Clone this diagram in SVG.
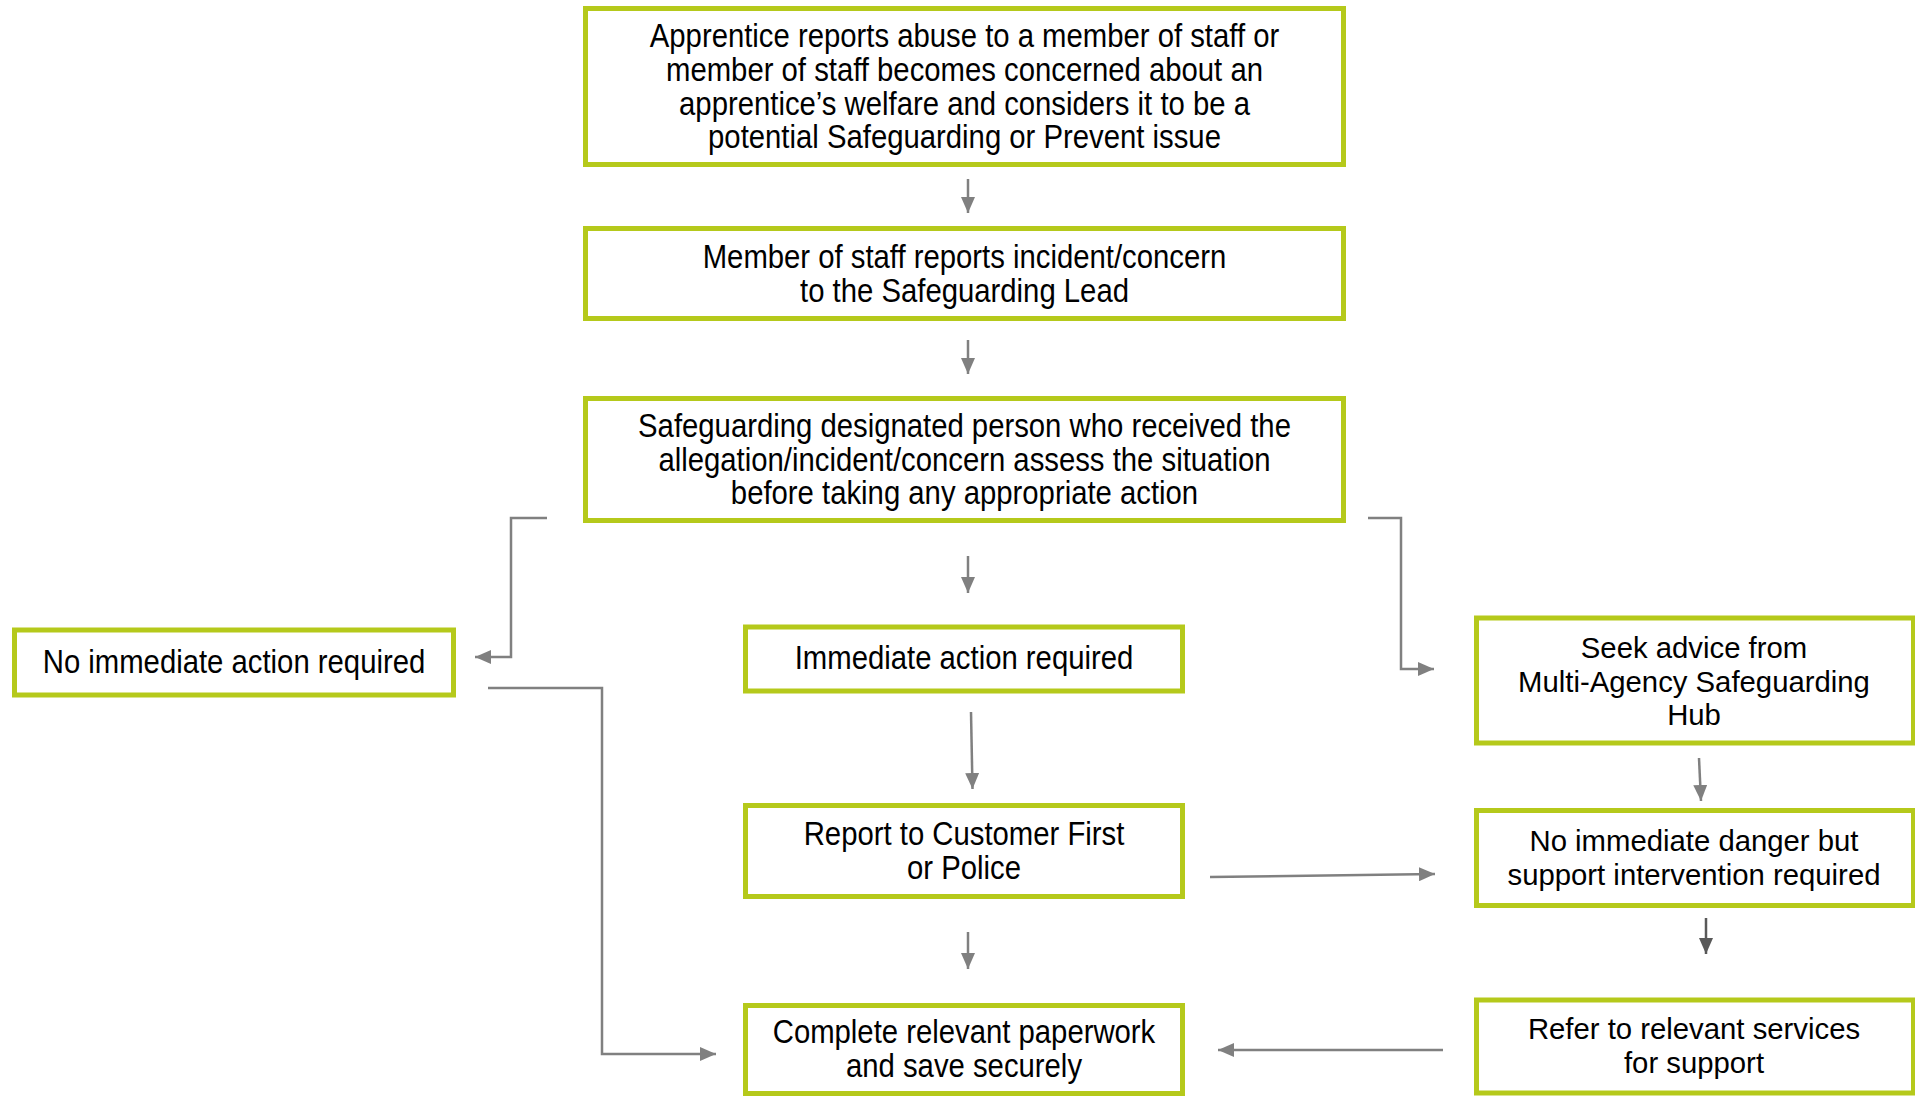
<svg xmlns="http://www.w3.org/2000/svg" width="1915" height="1096" viewBox="0 0 1915 1096">
<style>
.box{fill:#fff;stroke:#B5C91B;stroke-width:5}
.n{font-family:"Liberation Sans",Arial,sans-serif;font-size:33px;fill:#000;text-anchor:middle}
.w{font-family:"Liberation Sans",Arial,sans-serif;font-size:29.3px;fill:#000;text-anchor:middle}
.c{fill:none;stroke:#808080;stroke-width:2.5}
.d{fill:none;stroke:#595959;stroke-width:2.5}
</style>
<defs>
<marker id="ah" viewBox="0 0 16 14" refX="16" refY="7" markerWidth="16" markerHeight="14" markerUnits="userSpaceOnUse" orient="auto"><path d="M0,0 L16,7 L0,14 Z" fill="#808080"/></marker>
<marker id="ahd" viewBox="0 0 16 14" refX="16" refY="7" markerWidth="16" markerHeight="14" markerUnits="userSpaceOnUse" orient="auto"><path d="M0,0 L16,7 L0,14 Z" fill="#595959"/></marker>
</defs>
<rect width="1915" height="1096" fill="#fff"/>
<g id="connectors">
<path class="c" d="M968,179 V213" marker-end="url(#ah)"/>
<path class="c" d="M968,340 V374" marker-end="url(#ah)"/>
<path class="c" d="M968,556 V593" marker-end="url(#ah)"/>
<path class="c" d="M547,518 H511 V657 H475" marker-end="url(#ah)"/>
<path class="c" d="M1368,518 H1401 V669 H1434" marker-end="url(#ah)"/>
<path class="c" d="M971,712 L972.5,789" marker-end="url(#ah)"/>
<path class="c" d="M1210,877 L1435,874" marker-end="url(#ah)"/>
<path class="c" d="M968,932 V969" marker-end="url(#ah)"/>
<path class="c" d="M488,688 H602 V1054 H716" marker-end="url(#ah)"/>
<path class="c" d="M1699,758 L1701,801" marker-end="url(#ah)"/>
<path class="d" d="M1706,918 V954" marker-end="url(#ahd)"/>
<path class="c" d="M1443,1050 H1218" marker-end="url(#ah)"/>
</g>
<g id="n1"><rect class="box" x="585.5" y="8.5" width="758" height="156"/>
<g transform="translate(964.5,0) scale(0.888,1)"><text class="n" x="0" y="47.5">Apprentice reports abuse to a member of staff or</text><text class="n" x="0" y="81">member of staff becomes concerned about an</text><text class="n" x="0" y="115">apprentice’s welfare and considers it to be a</text><text class="n" x="0" y="148.5">potential Safeguarding or Prevent issue</text></g></g>
<g id="n2"><rect class="box" x="585.5" y="228.5" width="758" height="90"/>
<g transform="translate(964.5,0) scale(0.888,1)"><text class="n" x="0" y="268">Member of staff reports incident/concern</text><text class="n" x="0" y="302">to the Safeguarding Lead</text></g></g>
<g id="n3"><rect class="box" x="585.5" y="398.5" width="758" height="122"/>
<g transform="translate(964.5,0) scale(0.888,1)"><text class="n" x="0" y="437.5">Safeguarding designated person who received the</text><text class="n" x="0" y="471">allegation/incident/concern assess the situation</text><text class="n" x="0" y="504.5">before taking any appropriate action</text></g></g>
<g id="n4"><rect class="box" x="14.5" y="630" width="439" height="65"/>
<g transform="translate(234,0) scale(0.888,1)"><text class="n" x="0" y="673.5">No immediate action required</text></g></g>
<g id="n5"><rect class="box" x="745.5" y="627" width="437" height="64"/>
<g transform="translate(964,0) scale(0.888,1)"><text class="n" x="0" y="669.5">Immediate action required</text></g></g>
<g id="n6"><rect class="box" x="745.5" y="805.5" width="437" height="91"/>
<g transform="translate(964,0) scale(0.888,1)"><text class="n" x="0" y="845.5">Report to Customer First</text><text class="n" x="0" y="879.5">or Police</text></g></g>
<g id="n7"><rect class="box" x="745.5" y="1005.5" width="437" height="88"/>
<g transform="translate(964,0) scale(0.888,1)"><text class="n" x="0" y="1043.5">Complete relevant paperwork</text><text class="n" x="0" y="1077.5">and save securely</text></g></g>
<g id="n8"><rect class="box" x="1476.5" y="618" width="437" height="125"/>
<text class="w" x="1694" y="658">Seek advice from</text><text class="w" x="1694" y="691.5">Multi-Agency Safeguarding</text><text class="w" x="1694" y="725">Hub</text></g>
<g id="n9"><rect class="box" x="1476.5" y="810.5" width="437" height="95"/>
<text class="w" x="1694" y="851">No immediate danger but</text><text class="w" x="1694" y="885">support intervention required</text></g>
<g id="n10"><rect class="box" x="1476.5" y="1000" width="437" height="93"/>
<text class="w" x="1694" y="1038.5">Refer to relevant services</text><text class="w" x="1694" y="1072.5">for support</text></g>
</svg>
